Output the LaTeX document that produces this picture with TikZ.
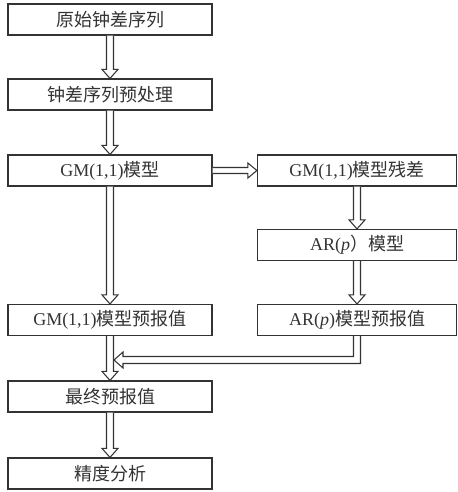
\documentclass[tikz,border=0pt]{standalone}
\usepackage{fontspec}
\setmainfont{Liberation Serif}
\newfontfamily\cjk{Noto Sans CJK SC}
\usetikzlibrary{calc}
\definecolor{ink}{HTML}{333333}
\tikzset{
  box/.style={draw=ink, line width=0.9pt, minimum height=31*0.75pt, inner sep=0pt, text=ink,
              font=\fontsize{13.5pt}{15pt}\selectfont},
  lbox/.style={box, minimum width=204*0.75pt},
  rbox/.style={box, minimum width=199*0.75pt},
  hollow/.style={draw=ink, line width=0.8pt, fill=white, line join=miter},
}
\newcommand\dnarrow[2]{%
  \path[hollow] ($(#1.south)+(-3.5,0)$) -- ($(#2.north)+(-3.5,-9)$) -- ($(#2.north)+(-8,-9)$)
    -- (#2.north) -- ($(#2.north)+(8,-9)$) -- ($(#2.north)+(3.5,-9)$) -- ($(#1.south)+(3.5,0)$);
}
\begin{document}
\begin{tikzpicture}[x=0.75pt,y=-0.75pt]
\useasboundingbox (0,0) rectangle (457,492);
\node[lbox] (orig) at (110,19.5) {\cjk 原始钟差序列};
\node[lbox] (pre)  at (110,94.5) {\cjk 钟差序列预处理};
\node[lbox] (gm)   at (110,170.5) {GM(1,1){\cjk 模型}};
\node[rbox] (res)  at (357,170.5) {GM(1,1){\cjk 模型残差}};
\node[rbox] (ar)   at (357,245) {AR(\textit{p}{\cjk ）模型}};
\node[lbox] (gmp)  at (110,320) {GM(1,1){\cjk 模型预报值}};
\node[rbox] (arp)  at (357,320) {AR(\textit{p}){\cjk 模型预报值}};
\node[lbox] (fin)  at (110,396.5) {\cjk 最终预报值};
\node[lbox] (acc)  at (110,473.5) {\cjk 精度分析};
\dnarrow{orig}{pre}
\dnarrow{pre}{gm}
\dnarrow{gm}{gmp}
\dnarrow{res}{ar}
\dnarrow{ar}{arp}
\dnarrow{gmp}{fin}
\dnarrow{fin}{acc}
% horizontal arrow
\path[hollow] ($(gm.east)+(0,-3)$) -- ($(res.west)+(-9,-3)$) -- ($(res.west)+(-9,-7.5)$)
  -- (res.west) -- ($(res.west)+(-9,7.5)$) -- ($(res.west)+(-9,3)$) -- ($(gm.east)+(0,3)$);
% feedback arrow
\coordinate (fb) at (114,360);
\path[hollow] ($(arp.south)+(3.5,0)$) |- ($(fb)+(9,3.5)$) -- ($(fb)+(9,8)$) -- (fb)
  -- ($(fb)+(9,-8)$) -- ($(fb)+(9,-3.5)$) -| ($(arp.south)+(-3.5,0)$);
\end{tikzpicture}
\end{document}
